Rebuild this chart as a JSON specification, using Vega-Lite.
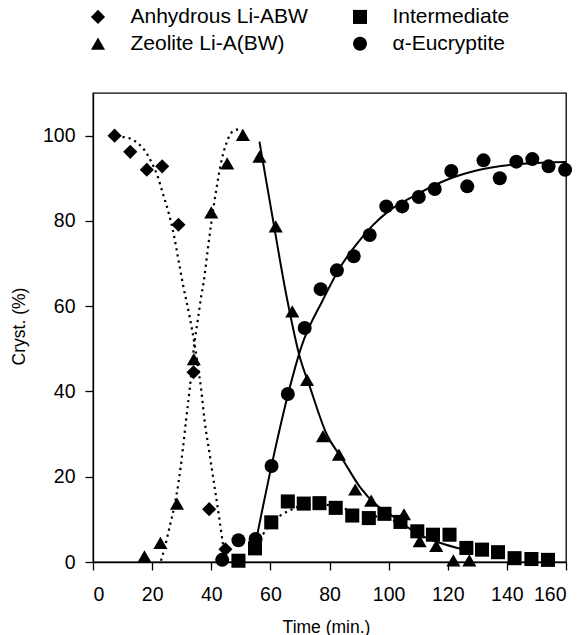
{
  "$schema": "https://vega.github.io/schema/vega-lite/v6.json",
  "width": 473,
  "height": 469,
  "autosize": {"type": "none"},
  "padding": {"left": 93, "top": 93, "right": 18, "bottom": 73},
  "background": "white",
  "config": {
    "font": "Liberation Sans",
    "view": {"stroke": "black", "strokeWidth": 1.3},
    "axis": {
      "grid": false,
      "domainColor": "black",
      "domainWidth": 1.3,
      "tickColor": "black",
      "tickWidth": 1.3,
      "tickSize": 8,
      "labelFont": "Liberation Sans",
      "labelFontSize": 19.5,
      "labelColor": "black",
      "titleFont": "Liberation Sans",
      "titleFontSize": 17.5,
      "titleFontWeight": "normal",
      "titleColor": "black"
    }
  },
  "datasets": {
    "obs": [
      {"series": "Anhydrous Li-ABW", "t": 7.3, "v": 100},
      {"series": "Anhydrous Li-ABW", "t": 12.6, "v": 96.2},
      {"series": "Anhydrous Li-ABW", "t": 18.2, "v": 92.0},
      {"series": "Anhydrous Li-ABW", "t": 23.4, "v": 92.8},
      {"series": "Anhydrous Li-ABW", "t": 28.9, "v": 79.1},
      {"series": "Anhydrous Li-ABW", "t": 34.0, "v": 44.5},
      {"series": "Anhydrous Li-ABW", "t": 39.3, "v": 12.4},
      {"series": "Anhydrous Li-ABW", "t": 44.8, "v": 3.0},
      {"series": "Zeolite Li-A(BW)", "t": 17.4, "v": 1.3},
      {"series": "Zeolite Li-A(BW)", "t": 22.8, "v": 4.5},
      {"series": "Zeolite Li-A(BW)", "t": 28.4, "v": 13.7},
      {"series": "Zeolite Li-A(BW)", "t": 34.1, "v": 47.6},
      {"series": "Zeolite Li-A(BW)", "t": 40.0, "v": 82.0},
      {"series": "Zeolite Li-A(BW)", "t": 45.4, "v": 93.5},
      {"series": "Zeolite Li-A(BW)", "t": 50.7, "v": 100.2},
      {"series": "Zeolite Li-A(BW)", "t": 56.3, "v": 95.1},
      {"series": "Zeolite Li-A(BW)", "t": 61.8, "v": 78.7},
      {"series": "Zeolite Li-A(BW)", "t": 67.4, "v": 58.8},
      {"series": "Zeolite Li-A(BW)", "t": 72.4, "v": 42.7},
      {"series": "Zeolite Li-A(BW)", "t": 77.8, "v": 29.5},
      {"series": "Zeolite Li-A(BW)", "t": 83.2, "v": 25.2},
      {"series": "Zeolite Li-A(BW)", "t": 88.7, "v": 17.0},
      {"series": "Zeolite Li-A(BW)", "t": 94.1, "v": 14.4},
      {"series": "Zeolite Li-A(BW)", "t": 105.2, "v": 11.2},
      {"series": "Zeolite Li-A(BW)", "t": 110.5, "v": 4.9},
      {"series": "Zeolite Li-A(BW)", "t": 116.1, "v": 3.8},
      {"series": "Zeolite Li-A(BW)", "t": 121.9, "v": 0.4},
      {"series": "Zeolite Li-A(BW)", "t": 127.3, "v": 0.4},
      {"series": "Intermediate", "t": 49.2, "v": 0.3},
      {"series": "Intermediate", "t": 54.8, "v": 3.2},
      {"series": "Intermediate", "t": 60.3, "v": 9.3},
      {"series": "Intermediate", "t": 65.9, "v": 14.2},
      {"series": "Intermediate", "t": 71.3, "v": 13.7},
      {"series": "Intermediate", "t": 76.6, "v": 13.8},
      {"series": "Intermediate", "t": 82.1, "v": 12.7},
      {"series": "Intermediate", "t": 87.7, "v": 10.9},
      {"series": "Intermediate", "t": 93.3, "v": 10.3},
      {"series": "Intermediate", "t": 98.6, "v": 11.3},
      {"series": "Intermediate", "t": 104.0, "v": 9.4},
      {"series": "Intermediate", "t": 109.7, "v": 7.2},
      {"series": "Intermediate", "t": 115.0, "v": 6.4},
      {"series": "Intermediate", "t": 120.6, "v": 6.4},
      {"series": "Intermediate", "t": 126.3, "v": 3.3},
      {"series": "Intermediate", "t": 131.6, "v": 2.9},
      {"series": "Intermediate", "t": 137.0, "v": 2.3},
      {"series": "Intermediate", "t": 142.6, "v": 0.9},
      {"series": "Intermediate", "t": 148.3, "v": 0.7},
      {"series": "Intermediate", "t": 153.9, "v": 0.5},
      {"series": "α-Eucryptite", "t": 43.7, "v": 0.5},
      {"series": "α-Eucryptite", "t": 49.2, "v": 5.1},
      {"series": "α-Eucryptite", "t": 55.0, "v": 5.4},
      {"series": "α-Eucryptite", "t": 60.4, "v": 22.5},
      {"series": "α-Eucryptite", "t": 65.9, "v": 39.4},
      {"series": "α-Eucryptite", "t": 71.6, "v": 54.9},
      {"series": "α-Eucryptite", "t": 77.0, "v": 64.0},
      {"series": "α-Eucryptite", "t": 82.5, "v": 68.4},
      {"series": "α-Eucryptite", "t": 88.2, "v": 71.7},
      {"series": "α-Eucryptite", "t": 93.6, "v": 76.7},
      {"series": "α-Eucryptite", "t": 99.2, "v": 83.4},
      {"series": "α-Eucryptite", "t": 104.6, "v": 83.4},
      {"series": "α-Eucryptite", "t": 110.2, "v": 85.6},
      {"series": "α-Eucryptite", "t": 115.6, "v": 87.5},
      {"series": "α-Eucryptite", "t": 121.2, "v": 91.7},
      {"series": "α-Eucryptite", "t": 126.6, "v": 88.1},
      {"series": "α-Eucryptite", "t": 132.1, "v": 94.2},
      {"series": "α-Eucryptite", "t": 137.6, "v": 90.0},
      {"series": "α-Eucryptite", "t": 143.2, "v": 93.9},
      {"series": "α-Eucryptite", "t": 148.6, "v": 94.5},
      {"series": "α-Eucryptite", "t": 154.1, "v": 92.8},
      {"series": "α-Eucryptite", "t": 159.7, "v": 92.0}
    ],
    "fits": [
      {"curve": "abw", "style": "dotted", "t": 8.0, "v": 100.2},
      {"curve": "abw", "style": "dotted", "t": 9.5, "v": 99.8},
      {"curve": "abw", "style": "dotted", "t": 12.3, "v": 99.4},
      {"curve": "abw", "style": "dotted", "t": 15.2, "v": 98.2},
      {"curve": "abw", "style": "dotted", "t": 17.5, "v": 96.5},
      {"curve": "abw", "style": "dotted", "t": 19.7, "v": 93.9},
      {"curve": "abw", "style": "dotted", "t": 21.9, "v": 90.4},
      {"curve": "abw", "style": "dotted", "t": 23.6, "v": 86.5},
      {"curve": "abw", "style": "dotted", "t": 25.3, "v": 82.6},
      {"curve": "abw", "style": "dotted", "t": 27.0, "v": 77.9},
      {"curve": "abw", "style": "dotted", "t": 29.3, "v": 69.3},
      {"curve": "abw", "style": "dotted", "t": 30.4, "v": 65.2},
      {"curve": "abw", "style": "dotted", "t": 32.7, "v": 57.5},
      {"curve": "abw", "style": "dotted", "t": 34.3, "v": 51.3},
      {"curve": "abw", "style": "dotted", "t": 35.5, "v": 45.9},
      {"curve": "abw", "style": "dotted", "t": 36.6, "v": 40.4},
      {"curve": "abw", "style": "dotted", "t": 37.7, "v": 33.4},
      {"curve": "abw", "style": "dotted", "t": 39.4, "v": 25.6},
      {"curve": "abw", "style": "dotted", "t": 41.1, "v": 17.7},
      {"curve": "abw", "style": "dotted", "t": 42.8, "v": 9.9},
      {"curve": "abw", "style": "dotted", "t": 43.9, "v": 4.5},
      {"curve": "abw", "style": "dotted", "t": 45.1, "v": 0.5},
      {"curve": "zeo-rise", "style": "dotted", "t": 23.0, "v": 0.3},
      {"curve": "zeo-rise", "style": "dotted", "t": 24.5, "v": 4.0},
      {"curve": "zeo-rise", "style": "dotted", "t": 26.0, "v": 8.5},
      {"curve": "zeo-rise", "style": "dotted", "t": 27.5, "v": 13.0},
      {"curve": "zeo-rise", "style": "dotted", "t": 29.0, "v": 19.0},
      {"curve": "zeo-rise", "style": "dotted", "t": 30.4, "v": 26.5},
      {"curve": "zeo-rise", "style": "dotted", "t": 31.5, "v": 33.4},
      {"curve": "zeo-rise", "style": "dotted", "t": 32.7, "v": 40.5},
      {"curve": "zeo-rise", "style": "dotted", "t": 34.3, "v": 51.3},
      {"curve": "zeo-rise", "style": "dotted", "t": 35.5, "v": 57.0},
      {"curve": "zeo-rise", "style": "dotted", "t": 36.6, "v": 62.3},
      {"curve": "zeo-rise", "style": "dotted", "t": 37.4, "v": 65.5},
      {"curve": "zeo-rise", "style": "dotted", "t": 38.8, "v": 73.2},
      {"curve": "zeo-rise", "style": "dotted", "t": 40.0, "v": 79.5},
      {"curve": "zeo-rise", "style": "dotted", "t": 41.7, "v": 87.3},
      {"curve": "zeo-rise", "style": "dotted", "t": 43.4, "v": 93.9},
      {"curve": "zeo-rise", "style": "dotted", "t": 45.1, "v": 98.2},
      {"curve": "zeo-rise", "style": "dotted", "t": 47.3, "v": 101.0},
      {"curve": "zeo-rise", "style": "dotted", "t": 49.6, "v": 101.5},
      {"curve": "zeo-rise", "style": "dotted", "t": 51.0, "v": 100.8},
      {"curve": "inter", "style": "dotted", "t": 57.5, "v": 6.5},
      {"curve": "inter", "style": "dotted", "t": 60.0, "v": 8.8},
      {"curve": "inter", "style": "dotted", "t": 63.4, "v": 10.9},
      {"curve": "inter", "style": "dotted", "t": 66.3, "v": 12.0},
      {"curve": "inter", "style": "dotted", "t": 71.0, "v": 13.3},
      {"curve": "inter", "style": "dotted", "t": 76.6, "v": 13.6},
      {"curve": "inter", "style": "dotted", "t": 82.0, "v": 13.0},
      {"curve": "inter", "style": "dotted", "t": 87.7, "v": 12.0},
      {"curve": "inter", "style": "dotted", "t": 93.0, "v": 11.0},
      {"curve": "inter", "style": "dotted", "t": 98.6, "v": 10.3},
      {"curve": "inter", "style": "dotted", "t": 102.0, "v": 9.6},
      {"curve": "zeo-decay", "style": "solid", "t": 56.3, "v": 98.6},
      {"curve": "zeo-decay", "style": "solid", "t": 60.3, "v": 82.6},
      {"curve": "zeo-decay", "style": "solid", "t": 65.7, "v": 61.5},
      {"curve": "zeo-decay", "style": "solid", "t": 69.9, "v": 48.2},
      {"curve": "zeo-decay", "style": "solid", "t": 73.3, "v": 41.2},
      {"curve": "zeo-decay", "style": "solid", "t": 78.9, "v": 30.2},
      {"curve": "zeo-decay", "style": "solid", "t": 84.5, "v": 24.0},
      {"curve": "zeo-decay", "style": "solid", "t": 90.2, "v": 17.7},
      {"curve": "zeo-decay", "style": "solid", "t": 95.8, "v": 13.4},
      {"curve": "zeo-decay", "style": "solid", "t": 101.5, "v": 10.7},
      {"curve": "zeo-decay", "style": "solid", "t": 109.4, "v": 6.8},
      {"curve": "zeo-decay", "style": "solid", "t": 117.3, "v": 4.5},
      {"curve": "zeo-decay", "style": "solid", "t": 125.5, "v": 2.9},
      {"curve": "eucr", "style": "solid", "t": 55.3, "v": 5.5},
      {"curve": "eucr", "style": "solid", "t": 60.4, "v": 22.6},
      {"curve": "eucr", "style": "solid", "t": 66.0, "v": 39.4},
      {"curve": "eucr", "style": "solid", "t": 70.5, "v": 50.5},
      {"curve": "eucr", "style": "solid", "t": 77.8, "v": 61.5},
      {"curve": "eucr", "style": "solid", "t": 83.5, "v": 69.0},
      {"curve": "eucr", "style": "solid", "t": 89.1, "v": 74.5},
      {"curve": "eucr", "style": "solid", "t": 94.7, "v": 79.0},
      {"curve": "eucr", "style": "solid", "t": 100.0, "v": 82.3},
      {"curve": "eucr", "style": "solid", "t": 108.2, "v": 85.7},
      {"curve": "eucr", "style": "solid", "t": 119.5, "v": 89.6},
      {"curve": "eucr", "style": "solid", "t": 130.8, "v": 92.0},
      {"curve": "eucr", "style": "solid", "t": 142.0, "v": 93.2},
      {"curve": "eucr", "style": "solid", "t": 153.4, "v": 93.7},
      {"curve": "eucr", "style": "solid", "t": 160.0, "v": 93.8}
    ]
  },
  "encoding": {
    "x": {
      "field": "t",
      "type": "quantitative",
      "scale": {"domain": [0, 160], "nice": false, "zero": false},
      "axis": {
        "values": [0, 20, 40, 60, 80, 100, 120, 140, 160],
        "title": "Time (min.)",
        "labelPadding": 15,
        "titleX": 233,
        "titleY": 70,
        "titleAlign": "center",
        "titleBaseline": "alphabetic"
      }
    },
    "y": {
      "field": "v",
      "type": "quantitative",
      "scale": {"domain": [0, 110], "nice": false},
      "axis": {
        "values": [0, 20, 40, 60, 80, 100],
        "title": "Cryst. (%)",
        "labelPadding": 10,
        "titleAngle": -90,
        "titleX": -68.5,
        "titleY": 233,
        "titleAlign": "center",
        "titleBaseline": "alphabetic"
      }
    }
  },
  "layer": [
    {
      "data": {"name": "fits"},
      "transform": [{"filter": "datum.style === 'dotted'"}],
      "mark": {"type": "line", "interpolate": "monotone", "color": "black", "strokeWidth": 2.2, "strokeDash": [2.2, 4]},
      "encoding": {"detail": {"field": "curve"}, "order": {"field": "t"}}
    },
    {
      "data": {"name": "fits"},
      "transform": [{"filter": "datum.style === 'solid'"}],
      "mark": {"type": "line", "interpolate": "monotone", "color": "black", "strokeWidth": 2},
      "encoding": {"detail": {"field": "curve"}, "order": {"field": "t"}}
    },
    {
      "data": {"name": "obs"},
      "mark": {"type": "point", "filled": true, "opacity": 1, "color": "black"},
      "encoding": {
        "shape": {
          "field": "series",
          "type": "nominal",
          "scale": {
            "domain": ["Anhydrous Li-ABW", "Zeolite Li-A(BW)", "Intermediate", "α-Eucryptite"],
            "range": ["diamond", "triangle-up", "square", "circle"]
          },
          "legend": {
            "title": null,
            "orient": "none",
            "legendX": -5.5,
            "legendY": -86.8,
            "columns": 2,
            "columnPadding": 41,
            "rowPadding": 5,
            "padding": 0,
            "labelFont": "Liberation Sans",
            "labelFontSize": 21,
            "labelColor": "black",
            "labelOffset": 22,
            "labelLimit": 400,
            "symbolFillColor": "black",
            "symbolStrokeColor": "black",
            "symbolOpacity": 1
          }
        },
        "size": {
          "field": "series",
          "type": "nominal",
          "scale": {
            "domain": ["Anhydrous Li-ABW", "Zeolite Li-A(BW)", "Intermediate", "α-Eucryptite"],
            "range": [200, 196, 145, 165]
          },
          "legend": {
            "title": null,
            "orient": "none",
            "legendX": -5.5,
            "legendY": -86.8,
            "columns": 2,
            "columnPadding": 41,
            "rowPadding": 5,
            "padding": 0,
            "labelFont": "Liberation Sans",
            "labelFontSize": 21,
            "labelColor": "black",
            "labelOffset": 22,
            "labelLimit": 400,
            "symbolFillColor": "black",
            "symbolStrokeColor": "black",
            "symbolOpacity": 1
          }
        }
      }
    }
  ]
}
